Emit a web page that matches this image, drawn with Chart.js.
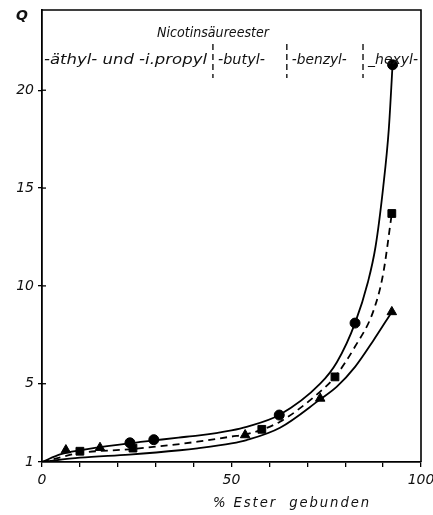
<!DOCTYPE html>
<html>
<head>
<meta charset="utf-8">
<script src="https://cdn.jsdelivr.net/npm/chart.js@4.4.1/dist/chart.umd.min.js"></script>
<style>
  html, body { margin: 0; padding: 0; background: #fff; }
  #wrap { width: 433px; height: 515px; }
</style>
</head>
<body>
<div id="wrap"><canvas id="c" width="433" height="515"></canvas></div>
<script>
const circleX = [23.2, 29.5, 62.6, 82.6, 92.5];
const circleY = [1.98, 2.14, 3.4, 8.1, 21.3];
const squareX = [10, 24, 58, 77.3, 92.3];
const squareY = [1.55, 1.71, 2.67, 5.35, 13.7];
const triX = [6.3, 15.3, 53.6, 73.4, 92.3];
const triY = [1.61, 1.73, 2.38, 4.25, 8.67];

// hand-drawn fit curves
const upperX = [0, 5, 10, 23, 29.5, 36, 41, 50, 54, 62.6, 73.4, 77.8, 82.6, 86, 88, 90, 91.5, 92.5];
const upperY = [1, 1.4, 1.6, 1.95, 2.1, 2.25, 2.35, 2.62, 2.8, 3.4, 5.0, 6.1, 8.1, 10.2, 12, 15, 18, 21.3];
const dashX = [0, 10, 23, 36.4, 41, 50, 54, 62.8, 73.4, 77.3, 82.6, 87.4, 90, 92.3];
const dashY = [1, 1.46, 1.65, 1.92, 2.04, 2.3, 2.42, 3.06, 4.6, 5.35, 6.9, 8.7, 10.6, 13.7];
const lowerX = [0, 10, 23, 36.4, 41, 50, 54, 62.8, 73.4, 77.8, 82.6, 87.4, 92.3];
const lowerY = [1, 1.22, 1.38, 1.6, 1.7, 1.95, 2.12, 2.75, 4.2, 4.85, 5.86, 7.2, 8.67];

const yTicks = [1, 5, 10, 15, 20];
const xLabelled = [0, 50, 100];

// ester groups along the top
const groupNames = ['-äthyl- und -i.propyl', '-butyl-', '-benzyl-', '_hexyl-'];
const groupStart = [0, 45.1, 64.6, 84.7];   // group boundaries in % ester
const groupWidth = [163, 47, 55, 50];      // printed width of each label, px
const headTitle = 'Nicotinsäureester';

const zip = (xs, ys) => xs.map((x, i) => ({x, y: ys[i]}));
const FONT = 'italic 14px "DejaVu Sans"';

// draw text squeezed / stretched to a given width (left edge x)
function fitText(ctx, txt, x, y, w) {
  const m = ctx.measureText(txt).width;
  ctx.save();
  ctx.translate(x, y);
  ctx.scale(w / m, 1);
  ctx.fillText(txt, 0, 0);
  ctx.restore();
}

const decor = {
  id: 'decor',
  afterDraw(chart) {
    const {ctx, chartArea: a, scales: {x, y}} = chart;
    ctx.save();
    // frame top + right
    ctx.strokeStyle = '#000';
    ctx.lineWidth = 1.6;
    ctx.beginPath();
    ctx.moveTo(a.left, a.top); ctx.lineTo(a.right, a.top); ctx.lineTo(a.right, a.bottom);
    ctx.stroke();
    // inner half of y tick crosses
    ctx.lineWidth = 1.3;
    yTicks.forEach(v => {
      if (v === 1) return;
      const py = y.getPixelForValue(v);
      ctx.beginPath(); ctx.moveTo(a.left, py); ctx.lineTo(a.left + 4, py); ctx.stroke();
    });
    ctx.fillStyle = '#111';
    ctx.textAlign = 'left'; ctx.textBaseline = 'middle';
    ctx.font = 'italic bold 14px "DejaVu Sans"';
    ctx.fillText('Q', 16, 16);
    // header
    ctx.font = FONT;
    fitText(ctx, headTitle, 157, 33, 112);
    groupNames.forEach((n, i) => {
      const px = x.getPixelForValue(groupStart[i]) + (i === 0 ? 2 : 5);
      fitText(ctx, n, px, 60, groupWidth[i]);
    });
    ctx.setLineDash([6, 4]);
    ctx.lineWidth = 1.3;
    groupStart.slice(1).forEach(v => {
      const px = x.getPixelForValue(v);
      ctx.beginPath(); ctx.moveTo(px, 44); ctx.lineTo(px, 78); ctx.stroke();
    });
    ctx.setLineDash([]);
    // x title
    ctx.font = FONT;
    ctx.letterSpacing = '2px';
    fitText(ctx, '% Ester  gebunden', 213, 503, 158);
    ctx.restore();
  }
};

const lineDs = (xs, ys, dash) => ({
  type: 'line', data: zip(xs, ys), showLine: true, pointRadius: 0,
  borderColor: '#000', borderWidth: 1.8, borderDash: dash,
  cubicInterpolationMode: 'monotone', fill: false, order: 2
});
const markDs = (xs, ys, style, r) => ({
  type: 'scatter', data: zip(xs, ys), pointStyle: style, pointRadius: r,
  backgroundColor: '#000', borderColor: '#000', borderWidth: 1, order: 1
});

new Chart(document.getElementById('c'), {
  type: 'scatter',
  data: {
    datasets: [
      lineDs(upperX, upperY, []),
      lineDs(dashX, dashY, [7, 5]),
      lineDs(lowerX, lowerY, []),
      markDs(circleX, circleY, 'circle', 5),
      markDs(squareX, squareY, 'rect', 5.5),
      markDs(triX, triY, 'triangle', 5.5)
    ]
  },
  options: {
    responsive: false,
    animation: false,
    layout: {padding: {top: 10, right: 12, left: 0, bottom: 0}},
    plugins: {legend: {display: false}, tooltip: {enabled: false}},
    scales: {
      x: {
        type: 'linear', min: 0, max: 100,
        afterFit: s => { s.height = 53; s.paddingLeft = 0; s.paddingRight = 0; },
        border: {color: '#000', width: 1.8},
        grid: {drawOnChartArea: false, color: '#000', lineWidth: 1.3, tickLength: 5},
        ticks: {
          stepSize: 10, autoSkip: false, maxRotation: 0, padding: 5,
          color: '#111', font: {family: 'DejaVu Sans', style: 'italic', size: 14},
          callback: v => xLabelled.includes(v) ? String(v) : ''
        }
      },
      y: {
        type: 'linear', min: 1, max: 24.1,
        afterFit: s => { s.width = 42; s.paddingTop = 0; s.paddingBottom = 0; },
        afterBuildTicks: s => { s.ticks = yTicks.map(v => ({value: v})); },
        border: {color: '#000', width: 1.8},
        grid: {drawOnChartArea: false, color: '#000', lineWidth: 1.3, tickLength: 4},
        ticks: {
          padding: 4, color: '#111',
          font: {family: 'DejaVu Sans', style: 'italic', size: 14}
        }
      }
    }
  },
  plugins: [decor]
});
</script>
</body>
</html>
